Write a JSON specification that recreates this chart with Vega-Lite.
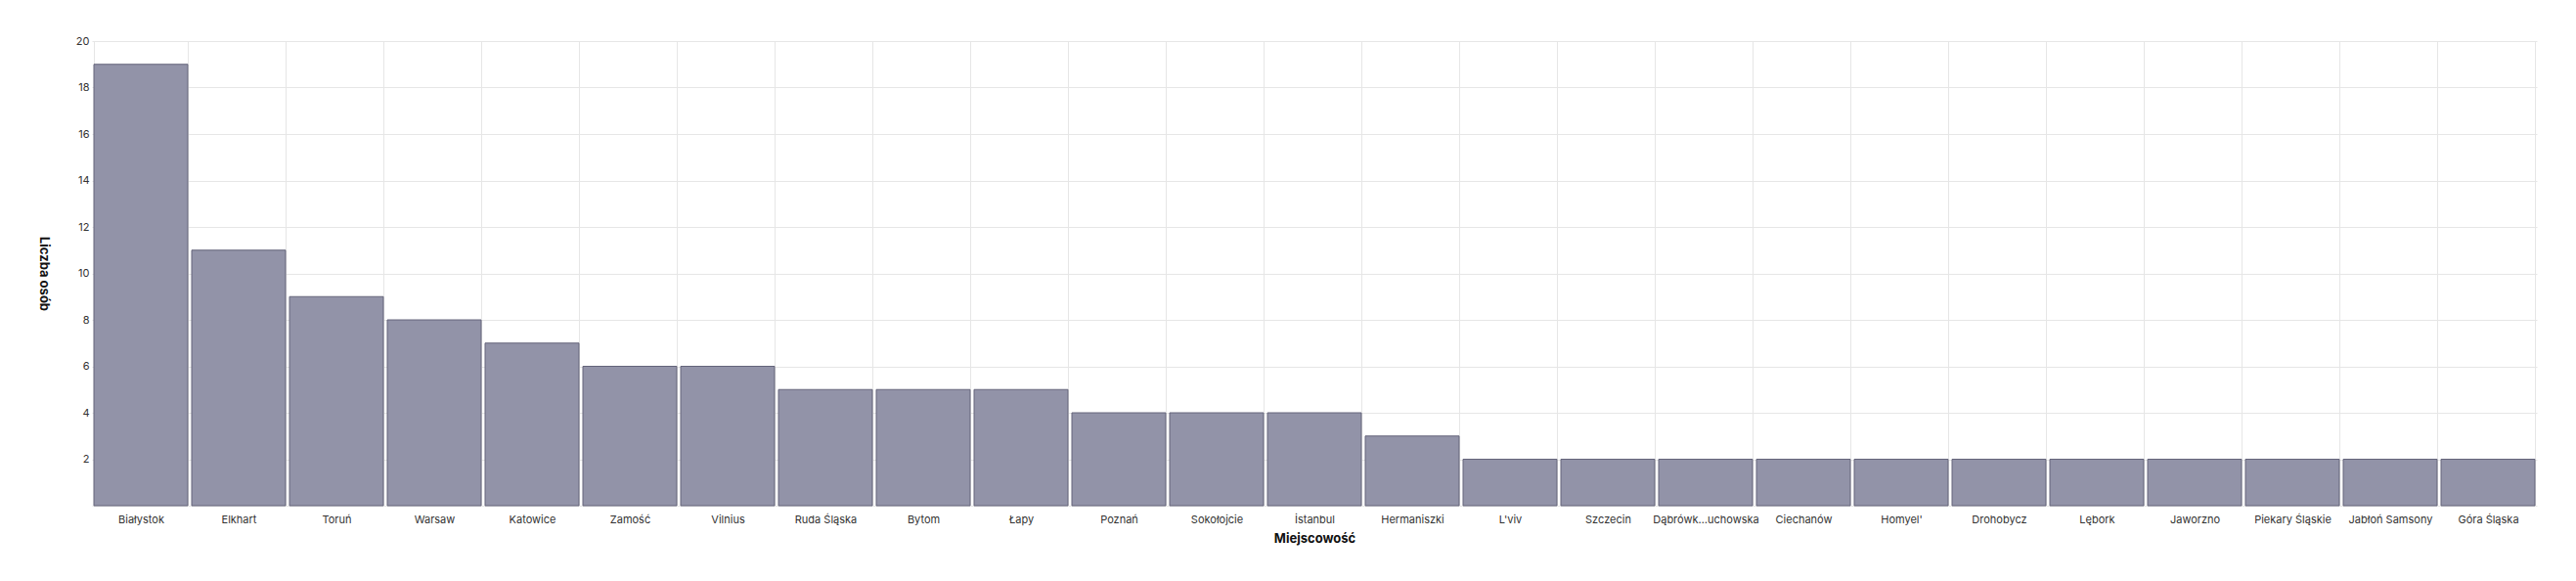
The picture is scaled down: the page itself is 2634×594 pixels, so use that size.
{
  "$schema": "https://vega.github.io/schema/vega-lite/v6.json",
  "width": 2500,
  "height": 475,
  "autosize": {"type": "none"},
  "padding": {"left": 94, "top": 42, "right": 40, "bottom": 77},
  "background": "white",
  "config": {
    "font": "Inter",
    "view": {"stroke": null},
    "axis": {"labelFont": "Inter", "titleFont": "Inter", "labelColor": "#333333", "titleColor": "#111111", "gridColor": "#e6e6e6", "gridWidth": 1}
  },
  "data": {
    "values": [
      {"miejscowosc": "Białystok", "liczba": 19},
      {"miejscowosc": "Elkhart", "liczba": 11},
      {"miejscowosc": "Toruń", "liczba": 9},
      {"miejscowosc": "Warsaw", "liczba": 8},
      {"miejscowosc": "Katowice", "liczba": 7},
      {"miejscowosc": "Zamość", "liczba": 6},
      {"miejscowosc": "Vilnius", "liczba": 6},
      {"miejscowosc": "Ruda Śląska", "liczba": 5},
      {"miejscowosc": "Bytom", "liczba": 5},
      {"miejscowosc": "Łapy", "liczba": 5},
      {"miejscowosc": "Poznań", "liczba": 4},
      {"miejscowosc": "Sokołojcie", "liczba": 4},
      {"miejscowosc": "İstanbul", "liczba": 4},
      {"miejscowosc": "Hermaniszki", "liczba": 3},
      {"miejscowosc": "L'viv", "liczba": 2},
      {"miejscowosc": "Szczecin", "liczba": 2},
      {"miejscowosc": "Dąbrówka Tuchowska", "liczba": 2},
      {"miejscowosc": "Ciechanów", "liczba": 2},
      {"miejscowosc": "Homyel'", "liczba": 2},
      {"miejscowosc": "Drohobycz", "liczba": 2},
      {"miejscowosc": "Lębork", "liczba": 2},
      {"miejscowosc": "Jaworzno", "liczba": 2},
      {"miejscowosc": "Piekary Śląskie", "liczba": 2},
      {"miejscowosc": "Jabłoń Samsony", "liczba": 2},
      {"miejscowosc": "Góra Śląska", "liczba": 2}
    ]
  },
  "mark": {"type": "bar", "fill": "#9293a8", "stroke": "#64647a", "strokeWidth": 1},
  "encoding": {
    "x": {
      "field": "miejscowosc",
      "type": "nominal",
      "sort": null,
      "title": "Miejscowość",
      "scale": {"paddingInner": 0.04, "paddingOuter": 0.02},
      "axis": {
        "labelAngle": 0,
        "labelFontSize": 11,
        "labelPadding": 8,
        "labelLimit": 200,
        "labelExpr": "datum.label == 'Dąbrówka Tuchowska' ? 'Dąbrówk…uchowska' : datum.label",
        "titleFontSize": 13,
        "titleFontWeight": "bold",
        "titlePadding": 8,
        "ticks": false,
        "domain": false,
        "grid": true,
        "tickBand": "extent"
      }
    },
    "y": {
      "field": "liczba",
      "type": "quantitative",
      "title": "Liczba osób",
      "scale": {"domain": [0, 20]},
      "axis": {
        "values": [0, 2, 4, 6, 8, 10, 12, 14, 16, 18, 20],
        "labelExpr": "datum.value == 0 ? '' : datum.label",
        "labelFontSize": 11,
        "labelPadding": 3,
        "titleFontSize": 13,
        "titleFontWeight": "bold",
        "titleAngle": 90,
        "titlePadding": 40,
        "ticks": false,
        "domain": false,
        "grid": true
      }
    }
  }
}
